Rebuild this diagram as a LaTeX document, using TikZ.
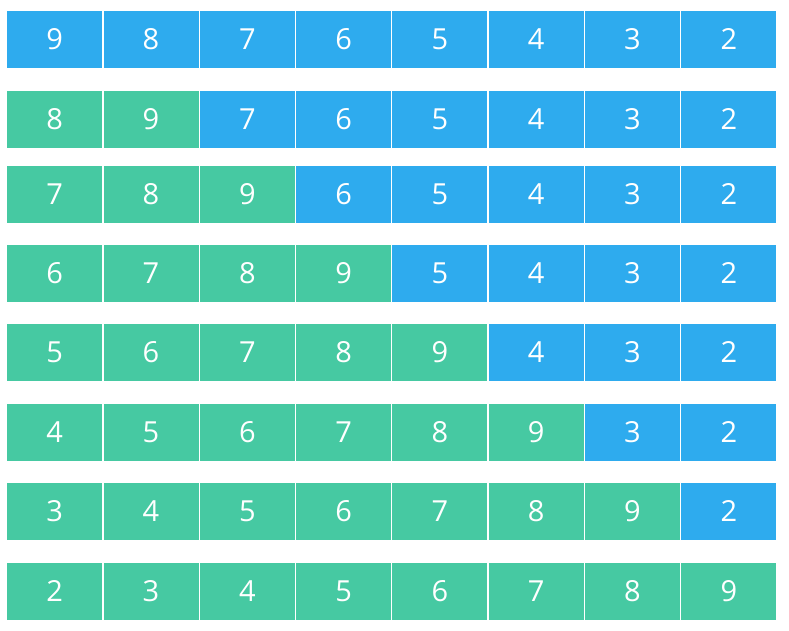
\documentclass[tikz,border=0pt]{standalone}
\usepackage{fontspec}
\setmainfont{Open Sans}
\usepackage{xcolor}
\definecolor{cellblue}{HTML}{2EABEE}
\definecolor{cellgreen}{HTML}{46C9A2}
\tikzset{
  cell/.style={minimum width=95pt,minimum height=56.5pt,inner sep=0pt,
    text=white,font=\fontsize{29}{29}\selectfont,anchor=north west},
  unsorted/.style={cell,fill=cellblue},
  sorted/.style={cell,fill=cellgreen}
}

\begin{document}
\begin{tikzpicture}[x=1pt,y=-1pt]
  \useasboundingbox[fill=white] (0,0) rectangle (789,630);
  % one row per pass, first cells already sorted
  \foreach \r/\top in {0/11,1/91,2/166,3/245,4/324,5/404,6/483,7/563}{
    \foreach \c in {0,...,7}{
      \pgfmathtruncatemacro{\val}{\c<=\r ? 9-\r+\c : 9-\c}
      \pgfmathtruncatemacro{\done}{(\c<=\r) && (\r>0)}
      \ifnum\done=1
        \node[sorted] (n\r\c) at ({7+96.3*\c},\top) {\val};
      \else
        \node[unsorted] (n\r\c) at ({7+96.3*\c},\top) {\val};
      \fi
    }
  }
\end{tikzpicture}
\end{document}
